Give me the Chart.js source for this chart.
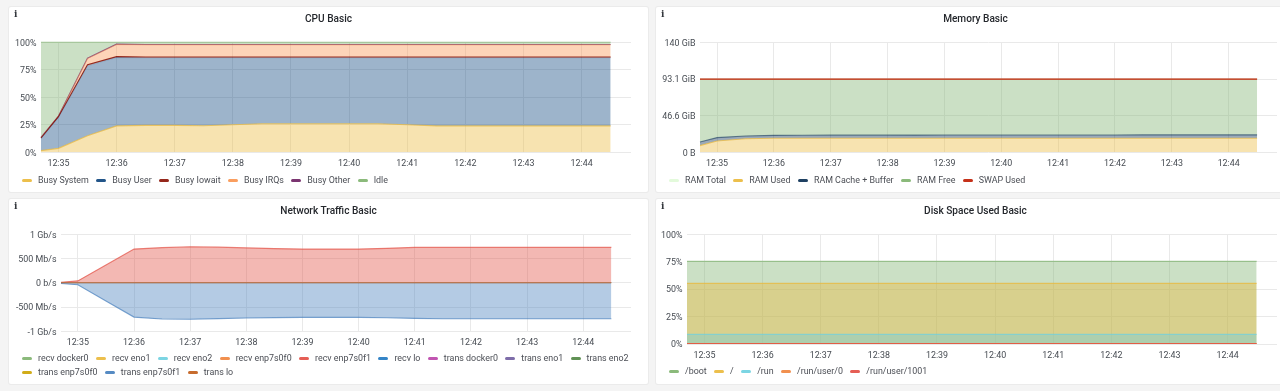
<!DOCTYPE html>
<html>
<head>
<meta charset="utf-8">
<script src="https://cdn.jsdelivr.net/npm/chart.js@4"></script>
<style>
html,body{margin:0;padding:0;width:1280px;height:391px;overflow:hidden;background:#f4f4f4;font-family:Roboto,sans-serif}
.panel{position:absolute;width:639px;height:185px;background:#fff;box-shadow:0 0 0 1px #ebebeb;border-radius:2px}
.panel canvas{position:absolute;left:0;top:0}
.info{position:absolute;left:5px;top:1px;font:bold 9px/12px "DejaVu Serif",serif;color:#33373c}
.title{position:absolute;left:0;width:639px;text-align:center;font:500 10.1px/12px Roboto,sans-serif;color:#25282d}
.legend{position:absolute;left:13px;display:flex;flex-wrap:wrap;width:616px;font:8.9px/13.6px Roboto,sans-serif;color:#4b4e55}
.legend span.item{display:inline-flex;align-items:center;margin-right:7.4px;white-space:nowrap}
.legend i{display:inline-block;width:10px;height:3px;border-radius:1.5px;margin-right:6px;opacity:.9}
</style>
</head>
<body>
<div class="panel" id="p0" style="left:9px;top:7px"><canvas id="c0" width="639" height="185"></canvas></div>
<div class="panel" id="p1" style="left:656px;top:7px"><canvas id="c1" width="639" height="185"></canvas></div>
<div class="panel" id="p2" style="left:9px;top:199px"><canvas id="c2" width="639" height="185"></canvas></div>
<div class="panel" id="p3" style="left:656px;top:199px"><canvas id="c3" width="639" height="185"></canvas></div>
<script>
// Sample times, minutes past 12:00
const times = [34.7,35,35.5,36,36.5,37,37.5,38,38.5,39,39.5,40,40.5,41,41.5,42,42.5,43,43.5,44,44.5];
const minuteTicks = [35,36,37,38,39,40,41,42,43,44];

// CPU Basic (%)
const cpuSystem = [1.5,3.6,15,24,24.5,24.5,24.2,25,26,26,26,26,26,25,24,24,24,24,24,24,24];
const cpuUser   = [11,28,63.7,62.3,61.5,61.5,61.8,61,60,60,60,60,60,61,62,62,62,62,62,62,62];
const cpuIowait = [0.5,0.8,1,0.7,0.7,0.7,0.7,0.7,0.7,0.7,0.7,0.7,0.7,0.7,0.7,0.7,0.7,0.7,0.7,0.7,0.7];
const cpuIrqs   = [0.2,0.2,5.5,11,11,11,11,11,11,11,11,11,11,11,11,11,11,11,11,11,11];
const cpuOther  = [0.3,0.3,0.3,0.3,0.3,0.3,0.3,0.3,0.3,0.3,0.3,0.3,0.3,0.3,0.3,0.3,0.3,0.3,0.3,0.3,0.3];
const cpuIdle   = [86.5,67.1,14.5,1.7,2,2,2,2,2,2,2,2,2,2,2,2,2,2,2,2,2];
const cpuTicks = [0,25,50,75,100];
const cpuTickLabels = ['0%','25%','50%','75%','100%'];

// Memory Basic (GiB)
const ramTotal = [93.1,93.1,93.1,93.1,93.1,93.1,93.1,93.1,93.1,93.1,93.1,93.1,93.1,93.1,93.1,93.1,93.1,93.1,93.1,93.1,93.1];
const ramUsed  = [8.5,14.4,17.3,17.8,17.8,17.8,17.8,17.8,17.8,17.8,17.8,17.8,17.8,17.8,17.8,17.8,17.8,17.8,17.8,17.8,17.8];
const ramCache = [4.5,4.3,3.5,3.8,3.9,4,4,4,4.1,4.2,4.2,4.2,4.2,4.3,4.3,4.3,4.4,4.4,4.4,4.4,4.4];
const ramFree  = [80.1,74.4,72.3,71.5,71.4,71.3,71.3,71.3,71.2,71.1,71.1,71.1,71.1,71,71,71,70.9,70.9,70.9,70.9,70.9];
const swapUsed = [93.1,93.1,93.1,93.1,93.1,93.1,93.1,93.1,93.1,93.1,93.1,93.1,93.1,93.1,93.1,93.1,93.1,93.1,93.1,93.1,93.1];
const memTicks = [0,46.6,93.1,140];
const memTickLabels = ['0 B','46.6 GiB','93.1 GiB','140 GiB'];

// Network Traffic Basic (Mb/s)
const recvF1  = [10,40,365,695,725,742,735,720,705,695,695,695,710,730,730,730,730,730,730,730,730];
const transF1 = [-15,-40,-375,-707,-745,-750,-738,-725,-718,-712,-712,-712,-722,-733,-742,-742,-742,-742,-742,-742,-742];
const netQuiet = [0,0,0,0,0,0,0,0,0,0,0,0,0,0,0,0,0,0,0,0,0];
const netTicks = [-1000,-500,0,500,1000];
const netTickLabels = ['-1 Gb/s','-500 Mb/s','0 b/s','500 Mb/s','1 Gb/s'];

// Disk Space Used Basic (%)
const diskBoot = [75.3,75.3,75.3,75.3,75.3,75.3,75.3,75.3,75.3,75.3,75.3,75.3,75.3,75.3,75.3,75.3,75.3,75.3,75.3,75.3,75.3];
const diskRoot = [55.3,55.3,55.3,55.3,55.3,55.3,55.3,55.3,55.3,55.3,55.3,55.3,55.3,55.3,55.3,55.3,55.3,55.3,55.3,55.3,55.3];
const diskRun  = [8.8,8.8,8.8,8.8,8.8,8.8,8.8,8.8,8.8,8.8,8.8,8.8,8.8,8.8,8.8,8.8,8.8,8.8,8.8,8.8,8.8];
const diskUser0 = [0.4,0.4,0.4,0.4,0.4,0.4,0.4,0.4,0.4,0.4,0.4,0.4,0.4,0.4,0.4,0.4,0.4,0.4,0.4,0.4,0.4];
const diskUser1001 = [0.5,0.5,0.5,0.5,0.5,0.5,0.5,0.5,0.5,0.5,0.5,0.5,0.5,0.5,0.5,0.5,0.5,0.5,0.5,0.5,0.5];
const diskTicks = [0,25,50,75,100];
const diskTickLabels = ['0%','25%','50%','75%','100%'];

function rgba(hex,a){
  const n=parseInt(hex.slice(1),16);
  return `rgba(${n>>16},${(n>>8)&255},${n&255},${a})`;
}
function ds(label,color,values,fill,extra,lineAlpha){
  return Object.assign({label,data:times.map((x,i)=>({x,y:values[i]})),borderColor:rgba(color,lineAlpha===undefined?0.7:lineAlpha),
    backgroundColor:rgba(color,0.4),legendColor:color,borderWidth:1.1,pointRadius:0,tension:0,fill,clip:2},extra||{});
}
const GRID='#e9e9e9', TICK='#464b52';
function makeChart(idx,cfg){
  const datasets=cfg.datasets;
  if(cfg.lastOnTop) datasets.forEach((d,i)=>{d.order=-i;});
  new Chart(document.getElementById('c'+idx),{
    type:'line',
    data:{datasets},
    options:{
      responsive:false,animation:false,
      layout:{padding:{left:0,top:35.3,right:cfg.right,bottom:cfg.bottom}},
      plugins:{legend:{display:false},tooltip:{enabled:false},title:{display:false}},
      scales:{
        x:{type:'linear',min:34.7,max:44.85,
          afterBuildTicks:s=>{s.ticks=minuteTicks.map(v=>({value:v}));},
          afterFit:s=>{s.height=17;},
          border:{display:false},
          grid:{color:GRID,drawTicks:false,lineWidth:1},
          ticks:{autoSkip:false,maxRotation:0,padding:6,color:TICK,font:{family:'Roboto',size:8.9},
            callback:v=>'12:'+v}},
        y:{min:cfg.yMin,max:cfg.yMax,stacked:!!cfg.stacked,
          afterBuildTicks:s=>{s.ticks=cfg.yTicks.map(v=>({value:v}));},
          afterTickToLabelConversion:s=>{s.ticks.forEach((t,i)=>{t.label=cfg.yLabels[i];});},
          afterFit:s=>{s.width=cfg.axisWidth;},
          border:{display:false},
          grid:{color:GRID,drawTicks:false,lineWidth:1},
          ticks:{padding:4.5,labelOffset:1,color:TICK,font:{family:'Roboto',size:8.9}}}
      }
    }
  });
  const panel=document.getElementById('p'+idx);
  const info=document.createElement('div');
  info.className='info';info.textContent='i';panel.appendChild(info);
  const ttl=document.createElement('div');
  ttl.className='title';ttl.textContent=cfg.title;ttl.style.top=cfg.titleTop+'px';panel.appendChild(ttl);
  const lg=document.createElement('div');
  lg.className='legend';lg.style.top=cfg.legendTop+'px';
  datasets.forEach(d=>{
    const it=document.createElement('span');it.className='item';
    const sw=document.createElement('i');sw.style.background=d.legendColor;
    it.appendChild(sw);it.appendChild(document.createTextNode(d.label));lg.appendChild(it);
  });
  panel.appendChild(lg);
}

makeChart(0,{title:'CPU Basic',titleTop:6,right:17,bottom:22.7,axisWidth:32,legendTop:167,
  yMin:0,yMax:100,stacked:true,yTicks:cpuTicks,yLabels:cpuTickLabels,
  datasets:[
    ds('Busy System','#EAB839',cpuSystem,'origin'),
    ds('Busy User','#0A437C',cpuUser,'-1',null,0.12),
    ds('Busy Iowait','#890F02',cpuIowait,'-1',null,0.85),
    ds('Busy IRQs','#F9934E',cpuIrqs,'-1',null,0.35),
    ds('Busy Other','#6D1F62',cpuOther,'-1'),
    ds('Idle','#7EB26D',cpuIdle,'-1')
  ]});
makeChart(1,{title:'Memory Basic',titleTop:6,right:18,bottom:22.7,axisWidth:44,legendTop:167,
  yMin:0,yMax:140,stacked:true,yTicks:memTicks,yLabels:memTickLabels,
  datasets:[
    ds('RAM Total','#E0F9D7',ramTotal,false,{stack:'total'}),
    ds('RAM Used','#EAB839',ramUsed,'origin',{stack:'ram'}),
    ds('RAM Cache + Buffer','#052B51',ramCache,'-1',{stack:'ram'},0.55),
    ds('RAM Free','#7EB26D',ramFree,'-1',{stack:'ram'},0.2),
    ds('SWAP Used','#BF1B00',swapUsed,false,{stack:'swap',order:-1,borderWidth:1.4},1)
  ]});
makeChart(2,{title:'Network Traffic Basic',titleTop:5.5,right:17,bottom:35.7,axisWidth:52,legendTop:153,lastOnTop:true,
  yMin:-1000,yMax:1000,yTicks:netTicks,yLabels:netTickLabels,
  datasets:[
    ds('recv docker0','#7EB26D',netQuiet,'origin',null,0.08),
    ds('recv eno1','#EAB839',netQuiet,'origin',null,0.08),
    ds('recv eno2','#6ED0E0',netQuiet,'origin',null,0.08),
    ds('recv enp7s0f0','#EF843C',netQuiet,'origin',null,0.08),
    ds('recv enp7s0f1','#E24D42',recvF1,'origin'),
    ds('recv lo','#1F78C1',netQuiet,'origin',null,0.08),
    ds('trans docker0','#BA43A9',netQuiet,'origin',null,0.08),
    ds('trans eno1','#705DA0',netQuiet,'origin',null,0.08),
    ds('trans eno2','#508642',netQuiet,'origin',null,0.08),
    ds('trans enp7s0f0','#CCA300',netQuiet,'origin',null,0.08),
    ds('trans enp7s0f1','#447EBC',transF1,'origin'),
    ds('trans lo','#C15C17',netQuiet,'origin',null,0.7)
  ]});
makeChart(3,{title:'Disk Space Used Basic',titleTop:5.5,right:18,bottom:23,axisWidth:31,legendTop:166,lastOnTop:true,
  yMin:0,yMax:100,yTicks:diskTicks,yLabels:diskTickLabels,
  datasets:[
    ds('/boot','#7EB26D',diskBoot,'origin'),
    ds('/','#EAB839',diskRoot,'origin'),
    ds('/run','#6ED0E0',diskRun,'origin'),
    ds('/run/user/0','#EF843C',diskUser0,'origin'),
    ds('/run/user/1001','#E24D42',diskUser1001,'origin')
  ]});
</script>
</body>
</html>
